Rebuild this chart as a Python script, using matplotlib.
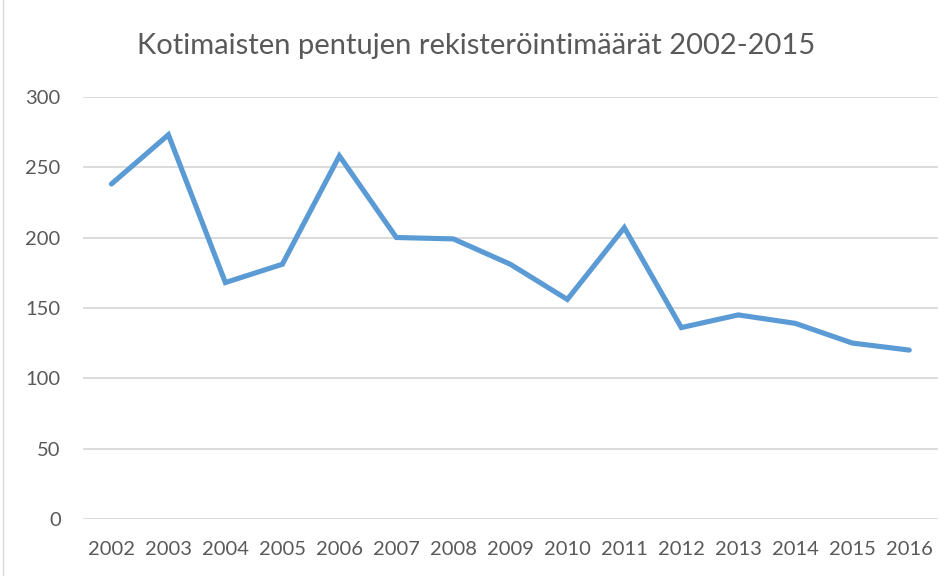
import matplotlib
matplotlib.use("Agg")
import matplotlib.pyplot as plt
from matplotlib.patches import Rectangle

years = ['2002', '2003', '2004', '2005', '2006', '2007', '2008', '2009',
         '2010', '2011', '2012', '2013', '2014', '2015', '2016']
registrations = [238, 273, 168, 181, 258, 200, 199, 181, 156, 207, 136, 145, 139, 125, 120]
y_ticks = [0, 50, 100, 150, 200, 250, 300]

plt.rcParams['font.family'] = ['Lato', 'DejaVu Sans']

fig = plt.figure(figsize=(9.53, 5.76), dpi=100)
ax = fig.add_axes([0.087, 0.099, 0.897, 0.733])

x = list(range(len(years)))
ax.plot(x, registrations, color='#5B9BD5', linewidth=3.7,
        solid_capstyle='round', solid_joinstyle='miter', zorder=3)

ax.set_xlim(-0.5, len(years) - 0.5)
ax.set_ylim(0, 300)
ax.set_xticks(x)
ax.set_xticklabels(years)
ax.set_yticks(y_ticks)
ax.tick_params(length=0, labelsize=14.5, colors='#595959')
ax.tick_params(axis='x', pad=16)
ax.tick_params(axis='y', pad=16)
ax.grid(axis='y', color='#D9D9D9', linewidth=1.3)
for s in ax.spines.values():
    s.set_visible(False)

fig.text(0.5, 0.921, 'Kotimaisten pentujen rekisteröintimäärät 2002-2015',
         ha='center', va='center', fontsize=21, color='#595959')

fig.patches.append(Rectangle((0.003, -0.01), 1.5, 1.02, transform=fig.transFigure,
                             fill=False, edgecolor='#D9D9D9', linewidth=1))

plt.savefig('out.png', dpi=100)
